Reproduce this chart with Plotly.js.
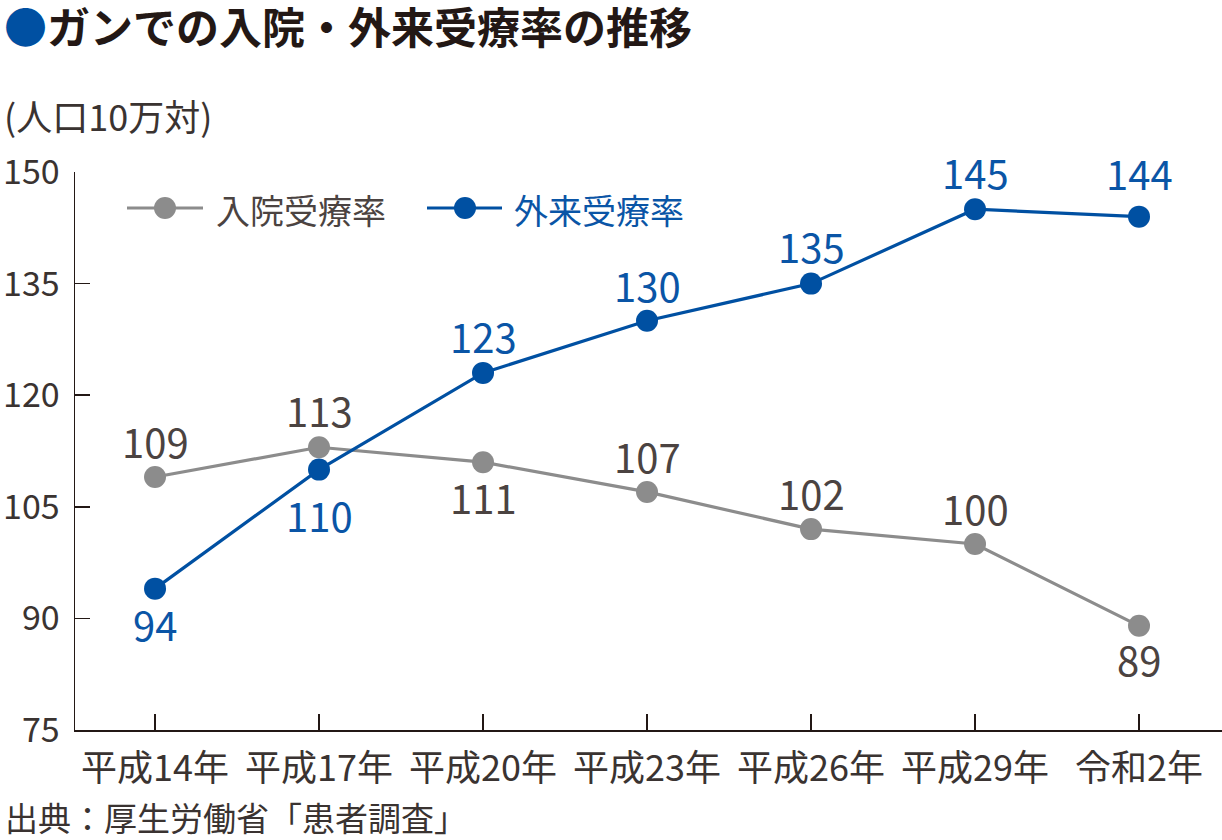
<!DOCTYPE html>
<html><head><meta charset="utf-8">
<script src="https://cdn.plot.ly/plotly-3.0.1.min.js"></script>
<style>html,body{margin:0;padding:0;background:#fff}#chart{width:1222px;height:840px}</style>
</head><body><div id="chart"></div>
<script>
const categories = ["平成14年","平成17年","平成20年","平成23年","平成26年","平成29年","令和2年"];
const inpatient = [109, 113, 111, 107, 102, 100, 89];
const outpatient = [94, 110, 123, 130, 135, 145, 144];
const yTicks = [75, 90, 105, 120, 135, 150];
const seriesNames = ["入院受療率", "外来受療率"];

// label offsets in px (positive = above the point)
const inpatientShift = [36, 37, -35, 36, 36, 36, -33];
const outpatientShift = [-35, -45, 37, 36, 38, 37, 44];

const FONT = '"Noto Sans CJK JP", "Noto Sans", sans-serif';
const DARK = '#3a3331';
const AXIS = '#231815';
const GRAY = '#8c8c8c';
const BLUE = '#0050a2';
const GRAYTXT = '#4b4341';
const BLUETXT = '#0a55a6';
const xIdx = categories.map((c, i) => i);

const traces = [
  {x: xIdx, y: inpatient, name: seriesNames[0], mode: 'lines+markers',
   line: {color: GRAY, width: 3.2}, marker: {color: GRAY, size: 22}, hoverinfo: 'skip'},
  {x: xIdx, y: outpatient, name: seriesNames[1], mode: 'lines+markers',
   line: {color: BLUE, width: 3.2}, marker: {color: BLUE, size: 22}, hoverinfo: 'skip'}
];

const annotations = [];
inpatient.forEach((v, i) => annotations.push({x: i, y: v, xref: 'x', yref: 'y', text: String(v), showarrow: false,
  xanchor: 'center', yanchor: 'middle', yshift: inpatientShift[i], font: {family: FONT, size: 40, color: GRAYTXT}}));
outpatient.forEach((v, i) => annotations.push({x: i, y: v, xref: 'x', yref: 'y', text: String(v), showarrow: false,
  xanchor: 'center', yanchor: 'middle', yshift: outpatientShift[i], font: {family: FONT, size: 40, color: BLUETXT}}));

// pixel -> paper helpers (plot area: x 75..1222, y 172..730)
const px = v => (v - 75) / 1147;
const py = v => (730 - v) / 558;

annotations.push(
  {text: '<span style="color:' + BLUE + '">●</span><b>ガンでの入院・外来受療率の推移</b>', xref: 'paper', yref: 'paper',
   x: px(2), y: py(25), xanchor: 'left', yanchor: 'middle', showarrow: false,
   font: {family: FONT, size: 43, weight: 'bold', color: AXIS}},
  {text: '(人口10万対)', xref: 'paper', yref: 'paper', x: px(2), y: py(115), xanchor: 'left', yanchor: 'middle',
   showarrow: false, font: {family: FONT, size: 36, color: DARK}},
  {text: '出典：厚生労働省「患者調査」', xref: 'paper', yref: 'paper', x: px(3), y: py(817), xanchor: 'left', yanchor: 'middle',
   showarrow: false, font: {family: FONT, size: 33, color: DARK}},
  {text: seriesNames[0], xref: 'paper', yref: 'paper', x: px(214), y: py(209), xanchor: 'left', yanchor: 'middle',
   showarrow: false, font: {family: FONT, size: 34, color: GRAYTXT}},
  {text: seriesNames[1], xref: 'paper', yref: 'paper', x: px(512), y: py(209), xanchor: 'left', yanchor: 'middle',
   showarrow: false, font: {family: FONT, size: 34, color: BLUETXT}}
);

const legendY = 208;
const shapes = [
  {type: 'line', xref: 'paper', yref: 'paper', x0: px(127), x1: px(203), y0: py(legendY), y1: py(legendY), line: {color: GRAY, width: 3.2}},
  {type: 'circle', xref: 'paper', yref: 'paper', x0: px(154), x1: px(176), y0: py(legendY - 11), y1: py(legendY + 11), fillcolor: GRAY, line: {width: 0}},
  {type: 'line', xref: 'paper', yref: 'paper', x0: px(427), x1: px(502), y0: py(legendY), y1: py(legendY), line: {color: BLUE, width: 3.2}},
  {type: 'circle', xref: 'paper', yref: 'paper', x0: px(454), x1: px(476), y0: py(legendY - 11), y1: py(legendY + 11), fillcolor: BLUE, line: {width: 0}}
];

const layout = {
  width: 1222, height: 840,
  margin: {l: 75, r: 0, t: 172, b: 110, pad: 0},
  paper_bgcolor: '#fff', plot_bgcolor: '#fff',
  font: {family: FONT, color: DARK},
  showlegend: false,
  xaxis: {range: [-0.488, 6.506], tickvals: xIdx, ticktext: categories, showgrid: false, zeroline: false,
    showline: true, linecolor: AXIS, linewidth: 1.5, ticks: 'inside', ticklen: 16, tickwidth: 1.5, tickcolor: AXIS,
    tickfont: {family: FONT, size: 36, color: DARK}, ticklabelstandoff: 6, fixedrange: true},
  yaxis: {range: [75, 150], tickvals: yTicks, ticktext: yTicks.map(String), showgrid: false, zeroline: false,
    showline: true, linecolor: AXIS, linewidth: 1.5, ticks: 'inside', ticklen: 15, tickwidth: 1.5, tickcolor: AXIS,
    tickfont: {family: FONT, size: 34, color: DARK}, ticklabelstandoff: 7, fixedrange: true},
  annotations: annotations,
  shapes: shapes
};

Plotly.newPlot('chart', traces, layout, {staticPlot: true, displayModeBar: false});
</script></body></html>
